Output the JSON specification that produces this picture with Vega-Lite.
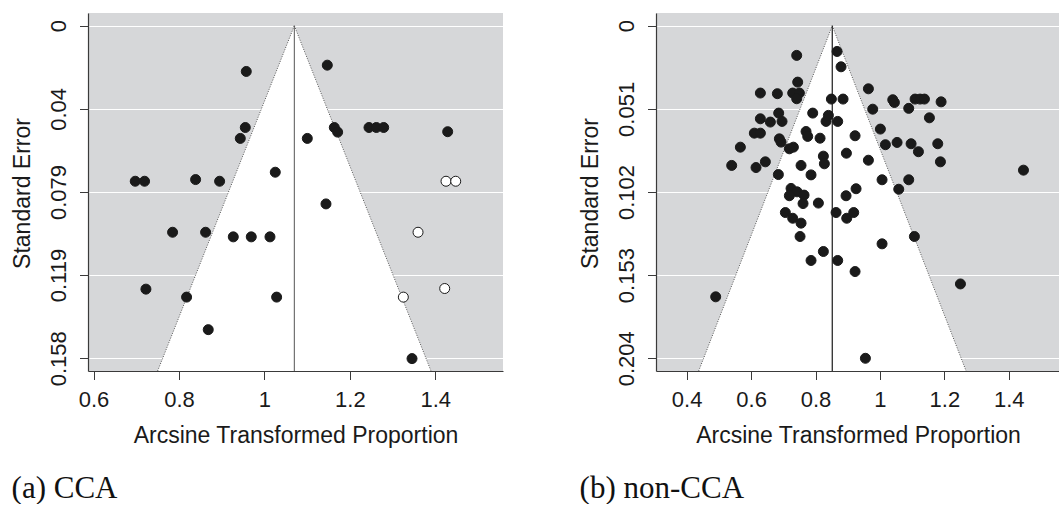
{
  "$schema": "https://vega.github.io/schema/vega-lite/v6.json",
  "background": "white",
  "padding": {"left": 11, "top": 13, "right": 0, "bottom": 0},
  "bounds": "flush",
  "spacing": 153,
  "config": {
    "view": {"fill": "#d6d7d9", "stroke": null},
    "axis": {
      "domainColor": "#3a3a3a", "domainWidth": 1.2,
      "tickColor": "#3a3a3a", "tickWidth": 1, "tickSize": 8.5,
      "labelFont": "Liberation Sans", "labelFontSize": 22, "labelColor": "#1a1a1a",
      "titleFont": "Liberation Sans", "titleFontSize": 23, "titleFontWeight": "normal", "titleColor": "#1a1a1a",
      "gridColor": "#ffffff", "gridWidth": 1.2, "gridOpacity": 1,
      "labelFlush": false, "labelOverlap": false, "zindex": 0
    }
  },
  "hconcat": [
    {
      "width": 415,
      "height": 358,
      "title": {"text": "(a) CCA", "orient": "bottom", "anchor": "start", "frame": "bounds", "font": "Liberation Serif", "fontSize": 31, "fontWeight": "normal", "color": "#111111", "baseline": "alphabetic", "offset": 50},
      "encoding": {
        "x": {"field": "x", "type": "quantitative", "scale": {"domain": [0.587, 1.5585], "nice": false, "zero": false},
              "axis": {"title": "Arcsine Transformed Proportion", "values": [0.6, 0.8, 1, 1.2, 1.4], "format": ".1~f", "grid": false, "labelPadding": 10, "titleY": 71.5, "titleBaseline": "alphabetic"}},
        "y": {"field": "se", "type": "quantitative", "scale": {"domain": [-0.00605, 0.1645], "reverse": true, "nice": false, "zero": false},
              "axis": {"title": "Standard Error", "values": [0, 0.0396, 0.0792, 0.1188, 0.1584], "format": ".3~f", "grid": true, "labelAngle": -90, "labelAlign": "center", "labelBaseline": "alphabetic", "labelPadding": 14, "titleAngle": -90, "titleAlign": "center", "titleBaseline": "alphabetic", "titleX": -58.4, "titleY": 180}}
      },
      "layer": [
        {
          "data": {"values": [{"se": 0, "x": 1.07, "x2": 1.07}, {"se": 0.1645, "x": 0.75, "x2": 1.39}]},
          "mark": {"type": "area", "orient": "horizontal", "fill": "#ffffff"},
          "encoding": {"x2": {"field": "x2"}}
        },
        {
          "data": {"values": [{"side": "L", "x": 1.07, "se": 0}, {"side": "L", "x": 0.75, "se": 0.1645}, {"side": "R", "x": 1.07, "se": 0}, {"side": "R", "x": 1.39, "se": 0.1645}]},
          "mark": {"type": "line", "stroke": "#555555", "strokeWidth": 1, "strokeDash": [1, 1.5]},
          "encoding": {"detail": {"field": "side"}}
        },
        {
          "data": {"values": [{"x": 1.07, "se": 0, "se2": 0.1645}]},
          "mark": {"type": "rule", "stroke": "#555555", "strokeWidth": 1},
          "encoding": {"y2": {"field": "se2"}}
        },
        {
          "data": {"values": [
            {"x": 0.9575, "se": 0.0218, "t": "filled"},
            {"x": 1.1472, "se": 0.0188, "t": "filled"},
            {"x": 0.9552, "se": 0.0485, "t": "filled"},
            {"x": 0.9435, "se": 0.0537, "t": "filled"},
            {"x": 1.1004, "se": 0.0537, "t": "filled"},
            {"x": 1.1636, "se": 0.0485, "t": "filled"},
            {"x": 1.1714, "se": 0.0507, "t": "filled"},
            {"x": 1.2448, "se": 0.0485, "t": "filled"},
            {"x": 1.262, "se": 0.0485, "t": "filled"},
            {"x": 1.2792, "se": 0.0485, "t": "filled"},
            {"x": 1.429, "se": 0.0505, "t": "filled"},
            {"x": 0.6976, "se": 0.0741, "t": "filled"},
            {"x": 0.7194, "se": 0.0741, "t": "filled"},
            {"x": 0.8389, "se": 0.0733, "t": "filled"},
            {"x": 0.8951, "se": 0.0741, "t": "filled"},
            {"x": 1.0254, "se": 0.0698, "t": "filled"},
            {"x": 1.1441, "se": 0.0849, "t": "filled"},
            {"x": 0.785, "se": 0.0984, "t": "filled"},
            {"x": 0.8623, "se": 0.0984, "t": "filled"},
            {"x": 0.9271, "se": 0.1006, "t": "filled"},
            {"x": 0.9692, "se": 0.1006, "t": "filled"},
            {"x": 1.013, "se": 0.1006, "t": "filled"},
            {"x": 0.7226, "se": 0.1255, "t": "filled"},
            {"x": 0.8178, "se": 0.1293, "t": "filled"},
            {"x": 1.0286, "se": 0.1293, "t": "filled"},
            {"x": 0.8685, "se": 0.1448, "t": "filled"},
            {"x": 1.3455, "se": 0.1586, "t": "filled"},
            {"x": 1.4251, "se": 0.0741, "t": "open"},
            {"x": 1.4478, "se": 0.0741, "t": "open"},
            {"x": 1.3596, "se": 0.0984, "t": "open"},
            {"x": 1.422, "se": 0.1252, "t": "open"},
            {"x": 1.3252, "se": 0.1293, "t": "open"}
          ]},
          "mark": {"type": "point", "shape": "circle", "filled": true, "size": 100, "stroke": "#1a1a1a", "strokeWidth": 1, "opacity": 1},
          "encoding": {
            "fill": {"field": "t", "type": "nominal", "scale": {"domain": ["filled", "open"], "range": ["#1a1a1a", "#ffffff"]}, "legend": null}
          }
        }
      ]
    },
    {
      "width": 404,
      "height": 358,
      "title": {"text": "(b) non-CCA", "orient": "bottom", "anchor": "start", "frame": "bounds", "font": "Liberation Serif", "fontSize": 31, "fontWeight": "normal", "color": "#111111", "baseline": "alphabetic", "offset": 50},
      "encoding": {
        "x": {"field": "x", "type": "quantitative", "scale": {"domain": [0.3048, 1.559], "nice": false, "zero": false},
              "axis": {"title": "Arcsine Transformed Proportion", "values": [0.4, 0.6, 0.8, 1, 1.2, 1.4], "format": ".1~f", "grid": false, "labelPadding": 10, "titleY": 71.5, "titleBaseline": "alphabetic"}},
        "y": {"field": "se", "type": "quantitative", "scale": {"domain": [-0.0078, 0.2118], "reverse": true, "nice": false, "zero": false},
              "axis": {"title": "Standard Error", "values": [0, 0.051, 0.102, 0.153, 0.204], "format": ".3~f", "grid": true, "labelAngle": -90, "labelAlign": "center", "labelBaseline": "alphabetic", "labelPadding": 14, "titleAngle": -90, "titleAlign": "center", "titleBaseline": "alphabetic", "titleX": -58.4, "titleY": 180}}
      },
      "layer": [
        {
          "data": {"values": [{"se": 0, "x": 0.852, "x2": 0.852}, {"se": 0.2118, "x": 0.4373, "x2": 1.2675}]},
          "mark": {"type": "area", "orient": "horizontal", "fill": "#ffffff"},
          "encoding": {"x2": {"field": "x2"}}
        },
        {
          "data": {"values": [{"side": "L", "x": 0.852, "se": 0}, {"side": "L", "x": 0.4373, "se": 0.2118}, {"side": "R", "x": 0.852, "se": 0}, {"side": "R", "x": 1.2675, "se": 0.2118}]},
          "mark": {"type": "line", "stroke": "#555555", "strokeWidth": 1, "strokeDash": [1, 1.5]},
          "encoding": {"detail": {"field": "side"}}
        },
        {
          "data": {"values": [{"x": 0.852, "se": 0, "se2": 0.2118}]},
          "mark": {"type": "rule", "stroke": "#1a1a1a", "strokeWidth": 1.2},
          "encoding": {"y2": {"field": "se2"}}
        },
        {
          "data": {"values": [
            {"x": 0.7416, "se": 0.0182}, {"x": 0.8669, "se": 0.0158}, {"x": 0.8793, "se": 0.0252},
            {"x": 0.7447, "se": 0.0346}, {"x": 0.6288, "se": 0.0413}, {"x": 0.6816, "se": 0.0417},
            {"x": 0.7292, "se": 0.0413}, {"x": 0.7499, "se": 0.0413}, {"x": 0.7416, "se": 0.0448},
            {"x": 0.8493, "se": 0.045}, {"x": 0.8855, "se": 0.045}, {"x": 0.9642, "se": 0.0387},
            {"x": 0.9776, "se": 0.0512}, {"x": 1.0398, "se": 0.0454}, {"x": 1.0449, "se": 0.0471},
            {"x": 1.0894, "se": 0.0507}, {"x": 1.1091, "se": 0.045}, {"x": 1.1246, "se": 0.045},
            {"x": 1.1381, "se": 0.045}, {"x": 1.1899, "se": 0.0467}, {"x": 1.1536, "se": 0.0565},
            {"x": 0.6288, "se": 0.0571}, {"x": 0.6598, "se": 0.0591}, {"x": 0.6857, "se": 0.0536},
            {"x": 0.6961, "se": 0.0587}, {"x": 0.6101, "se": 0.0659}, {"x": 0.6288, "se": 0.0659},
            {"x": 0.6878, "se": 0.0694}, {"x": 0.693, "se": 0.0714}, {"x": 0.5667, "se": 0.0745},
            {"x": 0.7188, "se": 0.0755}, {"x": 0.7313, "se": 0.0745}, {"x": 0.5398, "se": 0.0857},
            {"x": 0.6153, "se": 0.087}, {"x": 0.6443, "se": 0.0835}, {"x": 0.6847, "se": 0.0913},
            {"x": 0.7913, "se": 0.0536}, {"x": 0.8327, "se": 0.0587}, {"x": 0.84, "se": 0.055},
            {"x": 0.8689, "se": 0.0587}, {"x": 0.7706, "se": 0.0649}, {"x": 0.7758, "se": 0.0679},
            {"x": 0.8141, "se": 0.069}, {"x": 0.9228, "se": 0.0675}, {"x": 1.0014, "se": 0.0634},
            {"x": 1.017, "se": 0.073}, {"x": 1.0532, "se": 0.0716}, {"x": 1.0967, "se": 0.0724},
            {"x": 1.1195, "se": 0.0773}, {"x": 1.1795, "se": 0.0724}, {"x": 1.1878, "se": 0.0835},
            {"x": 0.9642, "se": 0.0825}, {"x": 0.8959, "se": 0.0782}, {"x": 0.8244, "se": 0.08},
            {"x": 0.8275, "se": 0.0847}, {"x": 0.7551, "se": 0.0857}, {"x": 0.7861, "se": 0.0915},
            {"x": 0.724, "se": 0.0998}, {"x": 0.7427, "se": 0.1019}, {"x": 0.7188, "se": 0.1043},
            {"x": 0.7644, "se": 0.1039}, {"x": 0.7613, "se": 0.1091}, {"x": 0.8089, "se": 0.1088},
            {"x": 0.8948, "se": 0.1043}, {"x": 0.9259, "se": 0.1}, {"x": 0.8638, "se": 0.1146},
            {"x": 0.8969, "se": 0.1181}, {"x": 0.9186, "se": 0.1146}, {"x": 0.7064, "se": 0.1146},
            {"x": 0.7292, "se": 0.1181}, {"x": 0.7551, "se": 0.1211}, {"x": 0.752, "se": 0.1293},
            {"x": 0.8244, "se": 0.1385}, {"x": 0.7861, "se": 0.144}, {"x": 0.8689, "se": 0.144},
            {"x": 0.9228, "se": 0.1508}, {"x": 1.0066, "se": 0.0945}, {"x": 1.0894, "se": 0.0945},
            {"x": 1.0584, "se": 0.1003}, {"x": 1.107, "se": 0.1293}, {"x": 1.0066, "se": 0.1338},
            {"x": 1.2499, "se": 0.1584}, {"x": 1.4456, "se": 0.0886}, {"x": 0.4901, "se": 0.1663},
            {"x": 0.9549, "se": 0.204}
          ]},
          "mark": {"type": "point", "shape": "circle", "filled": true, "size": 100, "fill": "#1a1a1a", "stroke": "#1a1a1a", "strokeWidth": 1, "opacity": 1}
        }
      ]
    }
  ]
}
